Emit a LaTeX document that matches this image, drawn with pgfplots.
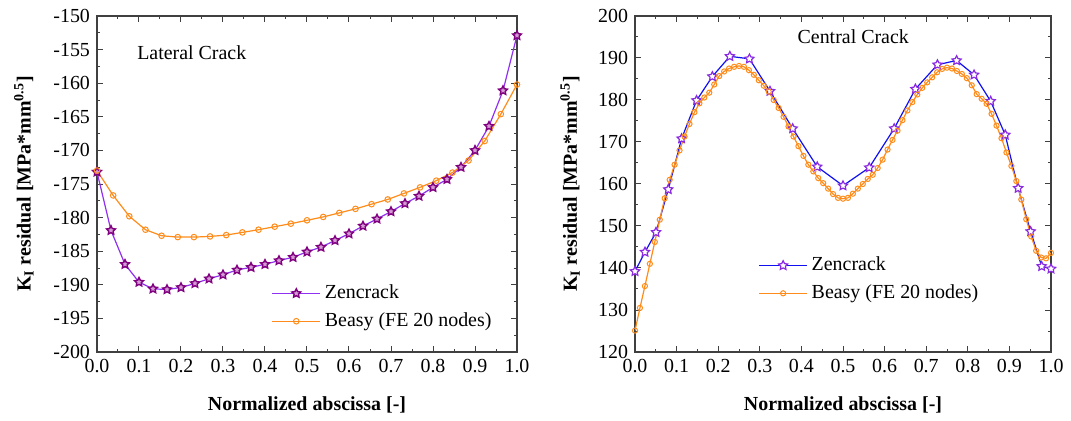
\documentclass[border=0pt]{standalone}
\usepackage{fontspec}
\setmainfont{Liberation Serif}
\usepackage{pgfplots}
\pgfplotsset{compat=1.18}

\definecolor{zenline}{HTML}{9030F0}
\definecolor{zenmark}{HTML}{800080}
\definecolor{zenfill}{HTML}{D49CD4}
\definecolor{beasy}{HTML}{FF8C1A}
\definecolor{zenblue}{HTML}{1010F0}
\definecolor{zenstar}{HTML}{8A2BE2}
\definecolor{frame}{HTML}{404040}

% five-pointed star mark
\pgfdeclareplotmark{pstar}{%
  \pgfpathmoveto{\pgfqpointpolar{90}{\pgfplotmarksize}}%
  \pgfpathlineto{\pgfqpointpolar{126}{0.5\pgfplotmarksize}}%
  \pgfpathlineto{\pgfqpointpolar{162}{\pgfplotmarksize}}%
  \pgfpathlineto{\pgfqpointpolar{198}{0.5\pgfplotmarksize}}%
  \pgfpathlineto{\pgfqpointpolar{234}{\pgfplotmarksize}}%
  \pgfpathlineto{\pgfqpointpolar{270}{0.5\pgfplotmarksize}}%
  \pgfpathlineto{\pgfqpointpolar{306}{\pgfplotmarksize}}%
  \pgfpathlineto{\pgfqpointpolar{342}{0.5\pgfplotmarksize}}%
  \pgfpathlineto{\pgfqpointpolar{18}{\pgfplotmarksize}}%
  \pgfpathlineto{\pgfqpointpolar{54}{0.5\pgfplotmarksize}}%
  \pgfpathclose
  \pgfusepathqfillstroke
}

\pgfplotsset{
  crackstyle/.style={
    scale only axis,
    height=168bp,
    xmin=0, xmax=1,
    xtick={0,0.1,...,1.0},
    minor x tick num=1,
    minor y tick num=1,
    tick align=inside,
    tick pos=both,
    major tick length=3bp,
    minor tick length=1.6bp,
    axis line style={frame, line width=0.6bp},
    every tick/.style={frame, line width=0.5bp},
    ticklabel style={font=\fontsize{10}{12}\selectfont},
    xticklabel={\pgfmathprintnumber[assume math mode=true, fixed, fixed zerofill, precision=1]{\tick}},
    yticklabel={\pgfmathprintnumber[assume math mode=true, fixed, precision=0]{\tick}},
    xlabel={\textbf{Normalized abscissa [-]}},
    ylabel={\textbf{K\textsubscript{I} residual [MPa*mm\textsuperscript{0.5}]}},
    label style={font=\fontsize{10}{12}\selectfont},
    xlabel style={at={(axis description cs:0.5,-0.158)}, anchor=center},
    legend cell align=left,
    legend image code/.code={%
      \draw[mark repeat=2, mark phase=2] plot coordinates {(0bp,0bp) (12bp,0bp) (24bp,0bp)};},
    legend style={draw=none, fill=none, inner sep=0pt, row sep=1.5bp,
      font=\fontsize{10}{12}\selectfont, anchor=west},
  }
}

\begin{document}
\begin{tikzpicture}
% ---------------- Lateral crack ----------------
\begin{axis}[
  crackstyle,
  width=210bp,
  at={(0,0)},
  ymin=-200, ymax=-150,
  ytick distance=5,
  ylabel style={at={(axis description cs:-0.174,0.5)}, anchor=center},
  legend style={at={(axis description cs:0.415,0.133)}},
]
\addplot[zenline, line width=0.6bp, mark=pstar, mark size=2.3bp,
  mark options={draw=zenmark, fill=zenfill, line width=0.7bp}]
  coordinates {
  (0,-173.2) (0.0333,-181.9) (0.0667,-186.95) (0.1,-189.6) (0.1333,-190.6)
  (0.1667,-190.7) (0.2,-190.4) (0.2333,-189.8) (0.2667,-189.1) (0.3,-188.5)
  (0.3333,-187.8) (0.3667,-187.4) (0.4,-186.95) (0.4333,-186.4) (0.4667,-185.9)
  (0.5,-185.1) (0.5333,-184.4) (0.5667,-183.4) (0.6,-182.4) (0.6333,-181.25)
  (0.6667,-180.2) (0.7,-179.1) (0.7333,-177.9) (0.7667,-176.8) (0.8,-175.5)
  (0.8333,-174.3) (0.8667,-172.5) (0.9,-170.0) (0.9333,-166.4) (0.9667,-161.1)
  (1,-152.9)};
\addlegendentry{Zencrack}
\addplot[beasy, line width=0.6bp, mark=o, mark size=1.4bp,
  mark options={fill=white, line width=0.5bp}]
  coordinates {
  (0,-173.0) (0.0385,-176.7) (0.0769,-179.8) (0.1154,-181.8) (0.1538,-182.7)
  (0.1923,-182.9) (0.2308,-182.9) (0.2692,-182.8) (0.3077,-182.6) (0.3462,-182.2)
  (0.3846,-181.8) (0.4231,-181.35) (0.4615,-180.9) (0.5,-180.4) (0.5385,-179.9)
  (0.5769,-179.3) (0.6154,-178.7) (0.6538,-178.0) (0.6923,-177.3) (0.7308,-176.4)
  (0.7692,-175.5) (0.8077,-174.5) (0.8462,-173.3) (0.8846,-171.5) (0.9231,-168.6)
  (0.9615,-164.6) (1,-160.2)};
\addlegendentry{Beasy (FE 20 nodes)}
\node[anchor=west, font=\fontsize{10}{12}\selectfont, inner sep=0pt]
  at (axis description cs:0.095,0.89) {Lateral Crack};
\end{axis}

% ---------------- Central crack ----------------
\begin{axis}[
  crackstyle,
  width=208bp,
  at={(269bp,0)},
  ymin=120, ymax=200,
  ytick distance=10,
  ylabel style={at={(axis description cs:-0.156,0.5)}, anchor=center},
  legend style={at={(axis description cs:0.296,0.216)}},
]
\addplot[zenblue, line width=0.6bp, mark=pstar, mark size=2.4bp,
  mark options={draw=zenstar, fill=white, line width=0.6bp}]
  coordinates {
  (0,139.2) (0.024,143.8) (0.0505,148.5) (0.080,158.7) (0.112,170.8)
  (0.148,179.9) (0.186,185.6) (0.228,190.4) (0.275,189.8) (0.3245,182.1)
  (0.379,173.2) (0.438,164.1) (0.5,159.6) (0.563,163.9) (0.623,173.2)
  (0.674,182.6) (0.727,188.4) (0.773,189.4) (0.815,186.0) (0.855,179.7)
  (0.890,171.7) (0.921,159.0) (0.951,148.7) (0.9776,140.4) (1,139.8)};
\addlegendentry{Zencrack}
\addplot[beasy, line width=0.6bp, mark=o, mark size=1.3bp,
  mark options={fill=white, line width=0.5bp}]
  coordinates {
  (0,125.1) (0.0119,130.5) (0.0238,135.7) (0.0357,141.0) (0.0476,146.2)
  (0.0595,151.5) (0.0714,156.6) (0.0833,161.0) (0.0952,164.6) (0.1071,168.0)
  (0.1190,171.3) (0.1310,174.3) (0.1429,177.1) (0.1548,179.2) (0.1667,180.6)
  (0.1786,181.75) (0.1905,183.7) (0.2024,185.7) (0.2143,186.8) (0.2262,187.5)
  (0.2381,187.9) (0.25,188.1) (0.2619,187.9) (0.2738,187.1) (0.2857,186.0)
  (0.2976,184.7) (0.3095,183.4) (0.3214,182.0) (0.3333,180.0) (0.3452,178.1)
  (0.3571,176.0) (0.3690,173.7) (0.3810,171.3) (0.3929,169.0) (0.4048,166.7)
  (0.4167,164.6) (0.4286,163.0) (0.4405,161.4) (0.4524,160.2) (0.4643,158.9)
  (0.4762,157.6) (0.4881,156.7) (0.5,156.5) (0.5119,156.7) (0.5238,157.7)
  (0.5357,158.9) (0.5476,160.0) (0.5595,161.2) (0.5714,162.2) (0.5833,163.8)
  (0.5952,165.8) (0.6071,168.2) (0.6190,170.5) (0.6310,172.7) (0.6429,175.2)
  (0.6548,177.5) (0.6667,179.5) (0.6786,181.3) (0.6905,182.9) (0.7024,184.2)
  (0.7143,185.4) (0.7262,186.6) (0.7381,187.4) (0.75,187.7) (0.7619,187.5)
  (0.7738,186.9) (0.7857,186.2) (0.7976,185.2) (0.8095,183.5) (0.8214,181.4)
  (0.8333,180.3) (0.8452,179.1) (0.8571,176.7) (0.8690,173.9) (0.8810,170.9)
  (0.8929,167.5) (0.9048,164.3) (0.9167,160.7) (0.9286,156.3) (0.9405,151.6)
  (0.9524,147.5) (0.9643,144.1) (0.9762,142.5) (0.9881,142.3) (1,143.6)};
\addlegendentry{Beasy (FE 20 nodes)}
\node[anchor=west, font=\fontsize{10}{12}\selectfont, inner sep=0pt]
  at (axis description cs:0.39,0.9375) {Central Crack};
\end{axis}
% page size of the reference around the two frames
\pgfresetboundingbox
\path[use as bounding box] (-48.5bp,-34.5bp) rectangle (487bp,176bp);
\end{tikzpicture}
\end{document}
